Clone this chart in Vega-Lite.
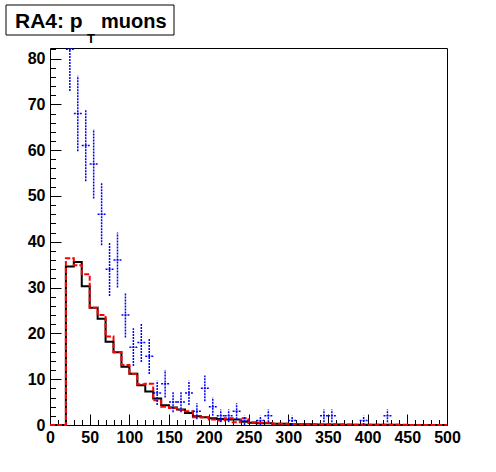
{
  "$schema": "https://vega.github.io/schema/vega-lite/v6.json",
  "padding": {"left": 5, "top": 4, "right": 0, "bottom": 0},
  "spacing": 2,
  "background": "white",
  "config": {
    "view": {"stroke": null},
    "font": "Liberation Sans",
    "axis": {"domain": false, "grid": false, "ticks": true, "zindex": 1, "tickColor": "#000000", "tickWidth": 1, "tickOpacity": 1, "domainColor": "#000000", "domainWidth": 1, "labelFont": "Liberation Sans", "labelFontWeight": "bold", "labelFontSize": 16, "labelColor": "black", "title": null, "labelOverlap": false, "labelFlush": false}
  },
  "datasets": {
    "hist": [
      {"x": 0, "k": 0, "r": 0}, {"x": 10, "k": 0, "r": 0}, {"x": 20, "k": 34.6, "r": 36.4}, {"x": 30, "k": 35.6, "r": 34.9},
      {"x": 40, "k": 30.3, "r": 32.9}, {"x": 50, "k": 25.6, "r": 25.6}, {"x": 60, "k": 23.2, "r": 24.0}, {"x": 70, "k": 18.2, "r": 19.3},
      {"x": 80, "k": 15.9, "r": 15.9}, {"x": 90, "k": 12.7, "r": 13.1}, {"x": 100, "k": 11.2, "r": 11.2}, {"x": 110, "k": 8.7, "r": 8.9},
      {"x": 120, "k": 7.3, "r": 9.0}, {"x": 130, "k": 5.8, "r": 5.4}, {"x": 140, "k": 4.3, "r": 4.0}, {"x": 150, "k": 3.8, "r": 3.7},
      {"x": 160, "k": 3.4, "r": 3.3}, {"x": 170, "k": 2.6, "r": 3.0}, {"x": 180, "k": 1.9, "r": 1.7}, {"x": 190, "k": 1.7, "r": 1.7},
      {"x": 200, "k": 1.5, "r": 1.2}, {"x": 210, "k": 1.3, "r": 1.0}, {"x": 220, "k": 1.2, "r": 1.5}, {"x": 230, "k": 1.2, "r": 0.6},
      {"x": 240, "k": 0.7, "r": 1.5}, {"x": 250, "k": 0.5, "r": 0.6}, {"x": 260, "k": 0.4, "r": 0.5}, {"x": 270, "k": 0.4, "r": 0.5},
      {"x": 280, "k": 0.3, "r": 0.3}, {"x": 290, "k": 0.3, "r": 0.3}, {"x": 300, "k": 0.2, "r": 0.2}, {"x": 310, "k": 0.15, "r": 0.2},
      {"x": 320, "k": 0.15, "r": 0.15}, {"x": 330, "k": 0.1, "r": 0.15}, {"x": 340, "k": 0.1, "r": 0.1}, {"x": 350, "k": 0.1, "r": 0.15},
      {"x": 360, "k": 0.1, "r": 0.1}, {"x": 370, "k": 0.05, "r": 0.1}, {"x": 380, "k": 0.05, "r": 0.05}, {"x": 390, "k": 0.05, "r": 0.05},
      {"x": 400, "k": 0.05, "r": 0.05}, {"x": 410, "k": 0.03, "r": 0.05}, {"x": 420, "k": 0.03, "r": 0.05}, {"x": 430, "k": 0.03, "r": 0.03},
      {"x": 440, "k": 0.02, "r": 0.03}, {"x": 450, "k": 0.02, "r": 0.02}, {"x": 460, "k": 0.02, "r": 0.02}, {"x": 470, "k": 0.02, "r": 0.02},
      {"x": 480, "k": 0.02, "r": 0.02}, {"x": 490, "k": 0.02, "r": 0.02}, {"x": 500, "k": 0.02, "r": 0.02}
    ],
    "blue": [
      {"c": 25, "a": 20, "b": 30, "v": 82, "lo": 72.94, "hi": 91.06},
      {"c": 35, "a": 30, "b": 40, "v": 68, "lo": 59.75, "hi": 76.25},
      {"c": 45, "a": 40, "b": 50, "v": 61, "lo": 53.19, "hi": 68.81},
      {"c": 55, "a": 50, "b": 60, "v": 57, "lo": 49.45, "hi": 64.55},
      {"c": 65, "a": 60, "b": 70, "v": 46, "lo": 39.22, "hi": 52.78},
      {"c": 75, "a": 70, "b": 80, "v": 34, "lo": 28.17, "hi": 39.83},
      {"c": 85, "a": 80, "b": 90, "v": 36, "lo": 30, "hi": 42},
      {"c": 95, "a": 90, "b": 100, "v": 24, "lo": 19.1, "hi": 28.9},
      {"c": 105, "a": 100, "b": 110, "v": 17, "lo": 12.88, "hi": 21.12},
      {"c": 115, "a": 110, "b": 120, "v": 18, "lo": 13.76, "hi": 22.24},
      {"c": 125, "a": 120, "b": 130, "v": 15, "lo": 11.13, "hi": 18.87},
      {"c": 135, "a": 130, "b": 140, "v": 7, "lo": 4.35, "hi": 9.65},
      {"c": 145, "a": 140, "b": 150, "v": 9, "lo": 6, "hi": 12},
      {"c": 155, "a": 150, "b": 160, "v": 5, "lo": 2.76, "hi": 7.24},
      {"c": 165, "a": 160, "b": 170, "v": 5, "lo": 2.76, "hi": 7.24},
      {"c": 175, "a": 170, "b": 180, "v": 7, "lo": 4.35, "hi": 9.65},
      {"c": 185, "a": 180, "b": 190, "v": 3, "lo": 1.27, "hi": 4.73},
      {"c": 195, "a": 190, "b": 200, "v": 8, "lo": 5.17, "hi": 10.83},
      {"c": 205, "a": 200, "b": 210, "v": 4, "lo": 2, "hi": 6},
      {"c": 215, "a": 210, "b": 220, "v": 2, "lo": 0.59, "hi": 3.41},
      {"c": 225, "a": 220, "b": 230, "v": 2, "lo": 0.59, "hi": 3.41},
      {"c": 235, "a": 230, "b": 240, "v": 3, "lo": 1.27, "hi": 4.73},
      {"c": 245, "a": 240, "b": 250, "v": 1, "lo": 0, "hi": 2},
      {"c": 265, "a": 260, "b": 270, "v": 1, "lo": 0, "hi": 2},
      {"c": 275, "a": 270, "b": 280, "v": 2, "lo": 0.59, "hi": 3.41},
      {"c": 305, "a": 300, "b": 310, "v": 1, "lo": 0, "hi": 2},
      {"c": 345, "a": 340, "b": 350, "v": 2, "lo": 0.59, "hi": 3.41},
      {"c": 355, "a": 350, "b": 360, "v": 2, "lo": 0.59, "hi": 3.41},
      {"c": 395, "a": 390, "b": 400, "v": 1, "lo": 0, "hi": 2},
      {"c": 425, "a": 420, "b": 430, "v": 2, "lo": 0.59, "hi": 3.41}
    ]
  },
  "vconcat": [
    {
      "width": 168,
      "height": 30,
      "data": {"values": [{"a": "RA4: p", "b": "T", "c": "muons"}]},
      "layer": [
        {"mark": {"type": "rect", "fill": "white", "stroke": "black", "strokeWidth": 1}, "encoding": {}},
        {"mark": {"type": "text", "align": "left", "baseline": "alphabetic", "dx": -75, "dy": 8, "fontSize": 21, "fontWeight": "bold", "font": "Liberation Sans", "color": "black"}, "encoding": {"text": {"field": "a"}}},
        {"mark": {"type": "text", "align": "left", "baseline": "alphabetic", "dx": -3, "dy": 23, "fontSize": 13, "fontWeight": "bold", "font": "Liberation Sans", "color": "black"}, "encoding": {"text": {"field": "b"}}},
        {"mark": {"type": "text", "align": "left", "baseline": "alphabetic", "dx": 11, "dy": 8, "fontSize": 20, "fontWeight": "bold", "font": "Liberation Sans", "color": "black"}, "encoding": {"text": {"field": "c"}}}
      ]
    },
    {
      "width": 441,
      "height": 377,
      "resolve": {"axis": {"x": "independent", "y": "independent"}},
      "layer": [
        {
          "data": {"name": "hist"},
          "mark": {"type": "line", "interpolate": "step-after", "color": "black", "strokeWidth": 2},
          "encoding": {
            "x": {"field": "x", "type": "quantitative", "scale": {"domain": [0, 500], "range": [44, 441], "nice": false},
              "axis": {"orient": "bottom", "values": [0,50,100,150,200,250,300,350,400,450,500], "offset": -11, "tickSize": 11, "labelPadding": 4}},
            "y": {"field": "k", "type": "quantitative", "scale": {"domain": [0, 82.3], "nice": false},
              "axis": {"orient": "left", "values": [0,10,20,30,40,50,60,70,80], "offset": -55, "tickSize": 11, "labelPadding": 5}}
          }
        },
        {
          "data": {"name": "hist"},
          "mark": {"type": "line", "interpolate": "step-after", "color": "#ff0000", "strokeWidth": 2, "strokeDash": [5, 2]},
          "encoding": {
            "x": {"field": "x", "type": "quantitative",
              "axis": {"orient": "bottom", "values": [0,10,20,30,40,50,60,70,80,90,100,110,120,130,140,150,160,170,180,190,200,210,220,230,240,250,260,270,280,290,300,310,320,330,340,350,360,370,380,390,400,410,420,430,440,450,460,470,480,490,500], "offset": -5.5, "tickSize": 5.5, "labels": false, "maxExtent": 0}},
            "y": {"field": "r", "type": "quantitative",
              "axis": {"orient": "left", "values": [0,2,4,6,8,10,12,14,16,18,20,22,24,26,28,30,32,34,36,38,40,42,44,46,48,50,52,54,56,58,60,62,64,66,68,70,72,74,76,78,80,82], "offset": -49.5, "tickSize": 5.5, "labels": false, "maxExtent": 0}}
          }
        },
        {
          "data": {"name": "blue"},
          "mark": {"type": "rule", "color": "#0000ff", "strokeWidth": 1.5, "strokeDash": [2, 1], "clip": true},
          "encoding": {
            "x": {"field": "c", "type": "quantitative",
              "axis": {"orient": "top", "domain": true, "ticks": false, "labels": false, "maxExtent": 0}},
            "y": {"field": "lo", "type": "quantitative",
              "axis": {"orient": "right", "domain": true, "ticks": false, "labels": false, "maxExtent": 0}},
            "y2": {"field": "hi"}
          }
        },
        {
          "data": {"name": "blue"},
          "mark": {"type": "rule", "color": "#0000ff", "strokeWidth": 1.5, "strokeDash": [2, 1], "clip": true},
          "encoding": {
            "x": {"field": "a", "type": "quantitative",
              "axis": {"orient": "bottom", "domain": true, "ticks": false, "labels": false, "maxExtent": 0}},
            "x2": {"field": "b"},
            "y": {"field": "v", "type": "quantitative",
              "axis": {"orient": "left", "offset": -44, "domain": true, "ticks": false, "labels": false, "maxExtent": 0}}
          }
        }
      ]
    }
  ]
}
